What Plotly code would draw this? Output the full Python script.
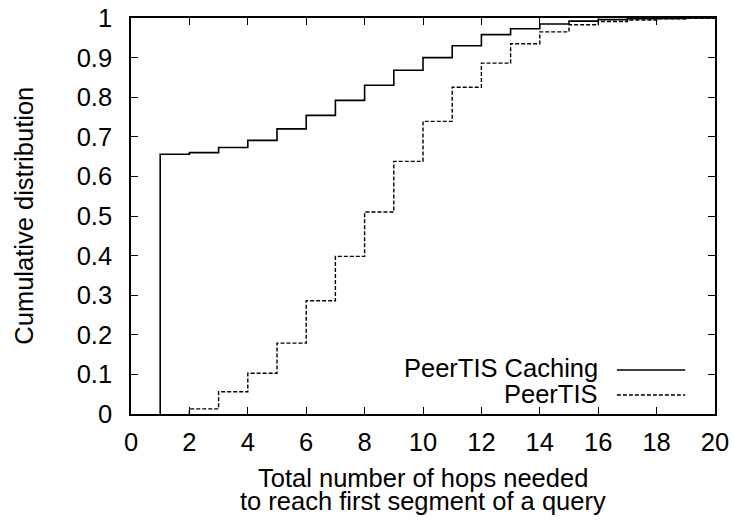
import plotly.graph_objects as go

hops = list(range(0, 21))
caching = [0.0, 0.656, 0.660, 0.673, 0.691, 0.720, 0.754, 0.792, 0.830, 0.868,
           0.900, 0.930, 0.958, 0.973, 0.985, 0.992, 0.996, 0.998, 0.999, 1.0, 1.0]
peertis = [0.0, 0.0, 0.013, 0.056, 0.103, 0.179, 0.286, 0.398, 0.510, 0.638,
           0.739, 0.825, 0.886, 0.935, 0.965, 0.983, 0.991, 0.995, 0.998, 0.999, 1.0]
series_names = ["PeerTIS Caching", "PeerTIS"]
x_ticks = list(range(0, 21, 2))
y_ticks = [0, 0.1, 0.2, 0.3, 0.4, 0.5, 0.6, 0.7, 0.8, 0.9, 1]
y_tick_text = ["0", "0.1", "0.2", "0.3", "0.4", "0.5", "0.6", "0.7", "0.8", "0.9", "1"]
x_title_lines = ["Total number of hops needed", "to reach first segment of a query"]
y_title = "Cumulative distribution"

FONT = "Liberation Sans, Arial, sans-serif"
FS = 25.5


def step_path(xs, ys):
    """gnuplot 'steps' path: start rising from 0 at the first non-zero value."""
    start = next(i for i, v in enumerate(ys) if v > 0)
    px, py = [xs[start]], [0.0]
    for i in range(start, len(xs)):
        px.append(xs[i]); py.append(ys[i])
        if i + 1 < len(xs):
            px.append(xs[i + 1]); py.append(ys[i])
    return px, py


fig = go.Figure()
cx, cy = step_path(hops, caching)
px_, py_ = step_path(hops, peertis)
fig.add_trace(go.Scatter(x=cx, y=cy, mode="lines", name=series_names[0],
                         line=dict(color="black", width=1.6), showlegend=False))
fig.add_trace(go.Scatter(x=px_, y=py_, mode="lines", name=series_names[1],
                         line=dict(color="black", width=1.4, dash="4px,2px"),
                         showlegend=False))

# Legend drawn gnuplot-style (text left, sample right)
legend_text_y = [0.117, 0.050]
legend_line_y = [0.111, 0.048]
dashes = ["solid", "4px,2px"]
widths = [1.6, 1.4]
for name, ty, ly, d, w in zip(series_names, legend_text_y, legend_line_y, dashes, widths):
    fig.add_annotation(x=0.803, y=ty, xref="paper", yref="paper", text=name,
                       showarrow=False, xanchor="right", yanchor="middle",
                       font=dict(family=FONT, size=FS, color="black"))
    fig.add_shape(type="line", xref="paper", yref="paper", x0=0.832, x1=0.949,
                  y0=ly, y1=ly, line=dict(color="black", width=w, dash=d))

# Axis titles
for txt, yy in zip(x_title_lines, [-0.1607, -0.2194]):
    fig.add_annotation(x=0.5, y=yy, xref="paper", yref="paper", text=txt,
                       showarrow=False, xanchor="center", yanchor="middle",
                       font=dict(family=FONT, size=FS, color="black"))
fig.add_annotation(x=-0.1824, y=0.502, xref="paper", yref="paper", text=y_title,
                   showarrow=False, textangle=-90, xanchor="center", yanchor="middle",
                   font=dict(family=FONT, size=FS, color="black"))

axis_common = dict(showgrid=False, zeroline=False, showline=True, linecolor="black",
                   linewidth=1.5, mirror="allticks", ticks="inside", ticklen=7,
                   tickwidth=1.2, tickcolor="black", automargin=False,
                   tickfont=dict(family=FONT, size=FS, color="black"))

fig.update_layout(
    width=734, height=520,
    margin=dict(l=131, r=19, t=18, b=106),
    paper_bgcolor="white", plot_bgcolor="white",
    font=dict(family=FONT, size=FS, color="black"),
    xaxis=dict(range=[0, 20], tickvals=x_ticks, ticklabelstandoff=5, **axis_common),
    yaxis=dict(range=[0, 1], tickvals=y_ticks, ticktext=y_tick_text,
               ticklabelstandoff=12, **axis_common),
)

fig.write_html("out.html", config={"displayModeBar": False},
               post_script="document.body.style.margin='0';document.body.style.padding='0';")
